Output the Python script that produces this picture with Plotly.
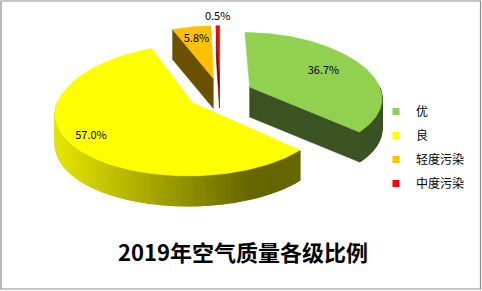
import numpy as np
import plotly.graph_objects as go

# ---- data ----
categories = ["优", "良", "轻度污染", "中度污染"]
values = [36.7, 57.0, 5.8, 0.5]
label_texts = ["36.7%", "57.0%", "5.8%", "0.5%"]
title_text = "2019年空气质量各级比例"

# ---- style ----
top_colors = ["#92d050", "#ffff00", "#ffc000", "#ff0000"]
side_colors = ["#3b5323", None, "#6b5000", "#7a0000"]
label_r = [0.66, 0.84, 0.74, 1.2]

W, H = 482, 291
CX, CY = 220, 93.4
A = 132.0
B0, B1 = 63.5, 7.5
KX = 0.156
DEPTH = 30.0
EXPLODE = 0.25


def proj(X, Y, dz=0.0):
    X = np.asarray(X, float)
    Y = np.asarray(Y, float)
    return CX + A * X * (1 + KX * Y), CY + Y * (B0 + B1 * Y) + dz


def lerp_color(c0, c1, f):
    a = [int(c0[i:i + 2], 16) for i in (1, 3, 5)]
    b = [int(c1[i:i + 2], 16) for i in (1, 3, 5)]
    return "#%02x%02x%02x" % tuple(int(round(a[k] + (b[k] - a[k]) * f)) for k in range(3))


fig = go.Figure()
total = sum(values)
fr = np.cumsum([0] + values) / total * 360.0

slices = []
for i, v in enumerate(values):
    t0, t1 = fr[i], fr[i + 1]
    mid = (t0 + t1) / 2
    ox = EXPLODE * np.sin(np.radians(mid))
    oy = -EXPLODE * np.cos(np.radians(mid))
    slices.append((i, t0, t1, mid, ox, oy))

# paint far slices first
order = sorted(slices, key=lambda s: s[5])


def poly(xs, ys, color, lw=0.6):
    fig.add_trace(go.Scatter(x=list(xs) + [xs[0]], y=list(ys) + [ys[0]], mode="lines",
                             fill="toself", fillcolor=color,
                             line=dict(color=color, width=lw),
                             hoverinfo="skip", showlegend=False))


for (i, t0, t1, mid, ox, oy) in order:
    # outer wall (front-facing part)
    w0, w1 = max(t0, 90.0), min(t1, 270.0)
    if w1 > w0:
        n = max(2, int(np.ceil(w1 - w0)))
        ts = np.linspace(w0, w1, n + 1)
        for k in range(n):
            ta = np.radians(ts[k]); tb = np.radians(ts[k + 1])
            X = [ox + np.sin(ta), ox + np.sin(tb)]
            Y = [oy - np.cos(ta), oy - np.cos(tb)]
            px, py = proj(X, Y)
            qx, qy = proj(X, Y, DEPTH)
            if side_colors[i] is None:
                xm = px.mean()
                f = np.clip((xm - 60) / (250 - 60), 0, 1)
                col = lerp_color("#e2e200", "#666600", f)
            else:
                col = side_colors[i]
            poly([px[0], px[1], qx[1], qx[0]], [py[0], py[1], qy[1], qy[0]], col, 1.2)
    # radial faces
    for t, nrm in ((t0, t0 - 90.0), (t1, t1 + 90.0)):
        if -np.cos(np.radians(nrm)) > 1e-6:
            tr = np.radians(t)
            X = [ox, ox + np.sin(tr)]
            Y = [oy, oy - np.cos(tr)]
            px, py = proj(X, Y)
            qx, qy = proj(X, Y, DEPTH)
            col = side_colors[i] if side_colors[i] else "#666600"
            poly([px[0], px[1], qx[1], qx[0]], [py[0], py[1], qy[1], qy[0]], col)
    # top face
    n = max(2, int(np.ceil(t1 - t0)))
    ts = np.radians(np.linspace(t0, t1, n + 1))
    X = np.concatenate([[ox], ox + np.sin(ts)])
    Y = np.concatenate([[oy], oy - np.cos(ts)])
    px, py = proj(X, Y)
    poly(px, py, top_colors[i])

# data labels
lx, ly = [], []
for (i, t0, t1, mid, ox, oy) in slices:
    m = np.radians(mid)
    x, y = proj(ox + label_r[i] * np.sin(m), oy - label_r[i] * np.cos(m))
    lx.append(float(x)); ly.append(float(y))
fig.add_trace(go.Scatter(x=lx, y=ly, mode="text", text=label_texts,
                         textfont=dict(family="Noto Sans CJK SC", size=11, color="#000000"),
                         hoverinfo="skip", showlegend=False))

# legend entries
for i, c in enumerate(categories):
    fig.add_trace(go.Scatter(x=[None], y=[None], mode="markers", name=c,
                             legendgroup=c,
                             marker=dict(symbol="square", size=7, color=top_colors[i])))

fig.update_layout(
    width=W, height=H,
    margin=dict(l=0, r=0, t=0, b=0),
    paper_bgcolor="white", plot_bgcolor="white",
    xaxis=dict(range=[0, W], visible=False, fixedrange=True),
    yaxis=dict(range=[H, 0], visible=False, fixedrange=True),
    showlegend=True,
    legend=dict(x=376 / W, y=1 - 97 / H, xanchor="left", yanchor="top",
                font=dict(family="Noto Sans CJK SC", size=12, color="#000000"),
                tracegroupgap=5, bgcolor="rgba(0,0,0,0)"),
    title=dict(text="<b>" + title_text + "</b>", x=243 / W, xanchor="center",
               y=1 - 253 / H, yanchor="middle",
               font=dict(family="Noto Sans CJK SC", size=22, color="#000000")),
    shapes=[dict(type="rect", xref="paper", yref="paper",
                 x0=1.0 / W, x1=480.5 / W, y0=1 - 289.0 / H, y1=1 - 1.0 / H,
                 line=dict(color="#8c8c8c", width=1.2), fillcolor="rgba(0,0,0,0)")],
)

fig.write_html("out.html")
